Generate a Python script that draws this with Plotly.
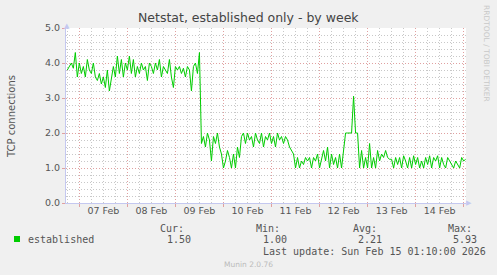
import pandas as pd
import plotly.graph_objects as go

# ---- data -------------------------------------------------------------
series_name = "established"
start_time = "2026-02-06 18:00"          # first sample, hourly samples
established = [
    3.8, 3.9, 4.0, 3.85, 4.3,
    3.6, 4.0, 3.7, 3.9, 3.6, 4.1, 3.8, 3.7, 4.0, 3.6,
    3.5, 3.7, 3.4, 3.6, 3.3, 3.8, 3.2, 3.5,
    3.9, 3.6, 4.2, 3.7, 4.1, 3.6, 4.0, 3.8, 4.2, 3.7, 4.1,
    3.6, 3.9, 3.7, 4.0, 3.8, 3.9, 3.5, 4.0, 3.9, 3.7, 4.0, 3.8, 4.1, 3.6, 3.9, 3.8,
    3.7, 4.1, 3.6, 3.3, 3.9,
    3.8, 3.9, 3.7, 3.85, 3.6, 3.9, 3.8,
    3.2, 3.9, 4.0, 3.7, 4.3,
    1.7,
    1.9, 1.6, 2.0, 1.8, 1.2, 1.9, 1.7, 2.0, 1.6,
    1.4, 1.0, 1.2, 1.5, 1.3, 1.0, 1.4, 1.0,
    1.6, 1.3, 1.9,
    2.0, 1.7, 2.0, 1.8, 1.9, 1.6, 2.0, 1.8, 1.7, 2.0, 1.6, 1.9,
    1.8, 2.0, 1.7, 1.9, 1.6, 2.0, 1.8, 1.9, 1.7,
    1.9, 1.8, 1.6, 1.5, 1.4,
    1.0,
    1.3, 1.0, 1.2, 1.1, 1.3, 1.2, 1.3, 1.0, 1.3, 1.2, 1.4, 1.0, 1.3, 1.5, 1.2, 1.6,
    1.0, 1.4, 1.1, 1.3, 1.0, 1.4, 1.0,
    1.5, 2.0,
    2.0, 2.0, 2.0,
    3.05,
    2.0, 2.0,
    1.0,
    1.5, 1.0, 1.3, 1.0, 1.7,
    1.0, 1.3, 1.0, 1.5, 1.2,
    1.4, 1.3, 1.5, 1.3, 1.25, 1.25,
    1.0, 1.3, 1.1, 1.3, 1.0, 1.35, 1.2, 1.0, 1.3, 1.0, 1.35, 1.1, 1.3, 1.0, 1.2, 1.0,
    1.3, 1.1, 1.35, 1.0, 1.3, 1.2, 1.35, 1.0, 1.3, 1.1, 1.0, 1.3, 1.2, 1.1, 1.0, 1.2,
    1.1, 1.0, 1.3, 1.2, 1.25,
]
times = pd.date_range(start_time, periods=len(established), freq="h")

x_range = ["2026-02-06 17:20", "2026-02-15 01:10"]
y_range = [0, 5]

day_labels = ["07 Feb", "08 Feb", "09 Feb", "10 Feb", "11 Feb", "12 Feb", "13 Feb", "14 Feb"]
title_text = "Netstat, established only - by week"
y_title = "TCP connections"
stat_labels = ["Cur:", "Min:", "Avg:", "Max:"]
stat_values = ["1.50", "1.00", "2.21", "5.93"]
last_update = "Last update: Sun Feb 15 01:10:00 2026"
footer = "Munin 2.0.76"
side_text = "RRDTOOL / TOBI OETIKER"

# grid / tick positions
midnights = list(pd.date_range("2026-02-07", periods=9, freq="D"))
noons = list(pd.date_range("2026-02-07 12:00", periods=len(day_labels), freq="D"))
minor_x = [t for t in pd.date_range("2026-02-06 18:00", "2026-02-15 00:00", freq="6h")
           if t.hour != 0]
minor_y = [round(v * 0.2, 1) for v in range(1, 25) if v % 5 != 0]

# ---- geometry ---------------------------------------------------------
W, H = 497, 275
L, R, T, B = 66, 31, 28, 72
PW, PH = W - L - R, H - T - B


def px(xp):
    return (xp - L) / PW


def py(yp):
    return (H - B - yp) / PH


LINE_COLOR = "#00cc00"
TEXT = "#555555"
MAJOR = "#e0a0a0"
MINOR = "#c8c8c8"
AXIS = "#c4c8f0"
DASH = "1px,2px"

fig = go.Figure()
# helper traces carrying the overlay axes (no visible marks)
fig.add_trace(go.Scatter(x=[times[0]], y=[None], xaxis="x2", yaxis="y2",
                         mode="lines", showlegend=False, hoverinfo="skip"))
fig.add_trace(go.Scatter(x=[times[0]], y=[None], xaxis="x3", yaxis="y",
                         mode="lines", showlegend=False, hoverinfo="skip"))
fig.add_trace(go.Scatter(x=times, y=established, mode="lines",
                         line=dict(color=LINE_COLOR, width=1),
                         name=series_name, showlegend=False, hoverinfo="skip"))

common = dict(fixedrange=True, zeroline=False)
fig.update_layout(
    width=W, height=H,
    margin=dict(l=L, r=R, t=T, b=B, pad=0),
    paper_bgcolor="#f0f0f0", plot_bgcolor="#ffffff",
    font=dict(family="DejaVu Sans", size=10, color=TEXT),
    showlegend=False,
    xaxis=dict(
        type="date", range=x_range,
        tickmode="array", tickvals=midnights, showticklabels=False,
        ticks="outside", ticklen=3, tickcolor=MAJOR,
        showgrid=True, gridcolor=MAJOR, griddash=DASH, gridwidth=1,
        showline=True, linecolor=AXIS, linewidth=1, **common,
    ),
    xaxis2=dict(
        type="date", overlaying="x", matches="x", range=x_range,
        tickmode="array", tickvals=minor_x, showticklabels=False, ticks="",
        showgrid=True, gridcolor=MINOR, griddash=DASH, gridwidth=1,
        showline=False, **common,
    ),
    xaxis3=dict(
        type="date", overlaying="x", matches="x", range=x_range,
        tickmode="array", tickvals=noons, ticktext=day_labels, ticks="",
        tickfont=dict(size=9.5, color=TEXT),
        showgrid=False, showline=False, **common,
    ),
    yaxis=dict(
        range=y_range, tickmode="array", tickvals=[0, 1, 2, 3, 4, 5],
        tickformat=".1f",
        ticks="outside", ticklen=3, tickcolor=MAJOR,
        tickfont=dict(size=9.5, color=TEXT),
        showgrid=True, gridcolor=MAJOR, griddash=DASH, gridwidth=1,
        showline=True, linecolor=AXIS, linewidth=1, **common,
    ),
    yaxis2=dict(
        overlaying="y", matches="y", range=y_range,
        tickmode="array", tickvals=minor_y, showticklabels=False, ticks="",
        showgrid=True, gridcolor=MINOR, griddash=DASH, gridwidth=1,
        showline=False, **common,
    ),
)

ann = []
ann.append(dict(text=title_text, x=px(248), y=py(18), xref="paper", yref="paper",
                xanchor="center", yanchor="middle", showarrow=False,
                font=dict(size=12.5, color="#444444")))
ann.append(dict(text=y_title, x=px(11), y=py(116), xref="paper", yref="paper",
                xanchor="center", yanchor="middle", showarrow=False, textangle=-90,
                font=dict(size=10, color=TEXT)))
ann.append(dict(text=side_text, x=px(487), y=py(53), xref="paper", yref="paper",
                xanchor="center", yanchor="middle", showarrow=False, textangle=90,
                font=dict(size=7.5, color="#c8c8c8")))
ann.append(dict(text="▲", x=px(66.5), y=py(26), xref="paper", yref="paper",
                xanchor="center", yanchor="middle", showarrow=False,
                font=dict(size=7, color=AXIS)))
ann.append(dict(text="▶", x=px(469), y=py(203), xref="paper", yref="paper",
                xanchor="center", yanchor="middle", showarrow=False,
                font=dict(size=7, color=AXIS)))

mono = dict(family="DejaVu Sans Mono", size=10, color=TEXT)
label_x = [158, 254, 351, 446]
value_x = [165, 261, 356, 451]
for lbl, xv in zip(stat_labels, label_x):
    ann.append(dict(text=lbl, x=px(xv), y=py(228), xref="paper", yref="paper",
                    xanchor="left", yanchor="middle", showarrow=False, font=mono))
for val, xv in zip(stat_values, value_x):
    ann.append(dict(text=val, x=px(xv), y=py(239.5), xref="paper", yref="paper",
                    xanchor="left", yanchor="middle", showarrow=False, font=mono))
ann.append(dict(text=series_name, x=px(26), y=py(239.5), xref="paper", yref="paper",
                xanchor="left", yanchor="middle", showarrow=False, font=mono))
ann.append(dict(text=last_update, x=px(261), y=py(251.5), xref="paper", yref="paper",
                xanchor="left", yanchor="middle", showarrow=False, font=mono))
ann.append(dict(text=footer, x=px(248), y=py(264), xref="paper", yref="paper",
                xanchor="center", yanchor="middle", showarrow=False,
                font=dict(family="DejaVu Sans", size=7.5, color="#bbbbbb")))
fig.update_layout(annotations=ann)

fig.add_shape(type="rect", xref="paper", yref="paper",
              x0=px(14), x1=px(20), y0=py(242), y1=py(236),
              fillcolor=LINE_COLOR, line=dict(width=0))

fig.write_html("out.html", config={"displayModeBar": False})
